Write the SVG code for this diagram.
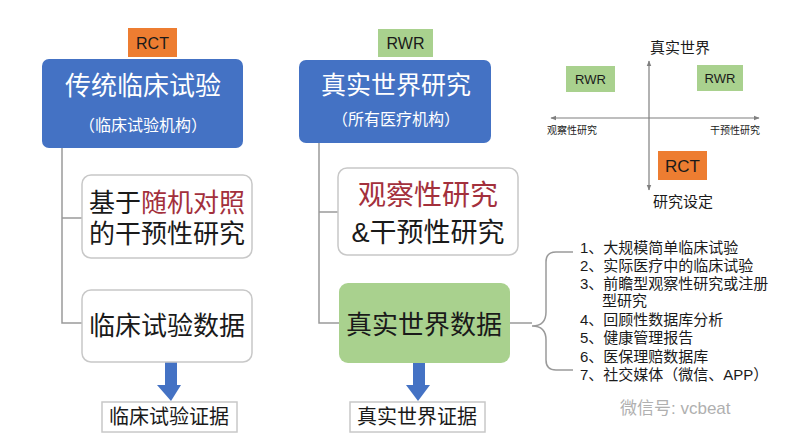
<svg xmlns="http://www.w3.org/2000/svg" width="800" height="443" viewBox="0 0 800 443">
<defs>
<style>
text{font-family:"Liberation Sans","Noto Sans CJK SC",sans-serif;}
.blue{fill:#4472c4;}
.orange{fill:#ed7d31;}
.green{fill:#a9d18e;}
.wbox{fill:#ffffff;stroke:#c8c8c8;stroke-width:1.5;}
.line{fill:none;stroke:#9a9a9a;stroke-width:1.5;}
.axis{fill:none;stroke:#7f7f7f;stroke-width:1.2;}
.w{fill:#ffffff;}
.dk{fill:#1a1a1a;}
.red{fill:#a3303c;}
</style>
<marker id="ah" viewBox="0 0 10 10" refX="9" refY="5" markerWidth="5" markerHeight="5" orient="auto-start-reverse">
<path d="M0,1 L10,5 L0,9 z" fill="#7f7f7f"/>
</marker>
</defs>
<rect width="800" height="443" fill="#ffffff"/>

<g id="connectors">
<path class="line" d="M62,148 V323 H82 M62,218 H82"/>
<path class="line" d="M319,142 V323 H339 M319,212 H338"/>
<path class="line" d="M510,323 H532"/>
<path class="line" d="M573,252 H556 Q546,252 546,262 V312 Q546,326 532,326 Q546,326 546,340 V360 Q546,370 556,370 H573"/>
<path class="blue" d="M165,362 H177 V385 H181 L171,401 L157,385 H165 Z"/>
<path class="blue" d="M413,363 H425 V385 H430 L418,401 L406,385 H413 Z"/>
</g>

<g id="rct-tag">
<rect class="orange" x="128" y="28" width="49" height="29"/>
<text x="152.5" y="49" font-size="16" text-anchor="middle" class="dk">RCT</text>
</g>
<g id="rct-main">
<rect class="blue" x="42" y="59" width="201" height="89" rx="7"/>
<text x="143" y="95" font-size="26" text-anchor="middle" class="w">传统临床试验</text>
<text x="143" y="131" font-size="16" text-anchor="middle" class="w">（临床试验机构）</text>
</g>
<g id="rct-method">
<rect class="wbox" x="82" y="175" width="170" height="83" rx="9"/>
<text x="167" y="212" font-size="26" text-anchor="middle" class="dk">基于<tspan class="red">随机对照</tspan></text>
<text x="167" y="243" font-size="26" text-anchor="middle" class="dk">的干预性研究</text>
</g>
<g id="rct-data">
<rect class="wbox" x="82" y="290" width="170" height="72" rx="9"/>
<text x="167" y="335" font-size="26" text-anchor="middle" class="dk">临床试验数据</text>
</g>
<g id="rct-evidence">
<rect class="wbox" x="102" y="402" width="135" height="30"/>
<text x="169" y="424" font-size="20" text-anchor="middle" class="dk">临床试验证据</text>
</g>

<g id="rwr-tag">
<rect class="green" x="378" y="29" width="55" height="28"/>
<text x="405.5" y="49" font-size="16" text-anchor="middle" class="dk">RWR</text>
</g>
<g id="rwr-main">
<rect class="blue" x="299" y="60" width="192" height="83" rx="7"/>
<text x="396" y="94" font-size="25" text-anchor="middle" class="w">真实世界研究</text>
<text x="396" y="125" font-size="16" text-anchor="middle" class="w">（所有医疗机构）</text>
</g>
<g id="rwr-method">
<rect class="wbox" x="338" y="168" width="180" height="87" rx="9"/>
<text x="428" y="205" font-size="28" text-anchor="middle" class="red">观察性研究</text>
<text x="428" y="242" font-size="27" text-anchor="middle" class="dk">&amp;干预性研究</text>
</g>
<g id="rwr-data">
<rect class="green" x="339" y="283" width="171" height="80" rx="9"/>
<text x="424" y="334" font-size="26" text-anchor="middle" class="dk">真实世界数据</text>
</g>
<g id="rwr-evidence">
<rect class="wbox" x="350" y="402" width="135" height="30"/>
<text x="417" y="424" font-size="20" text-anchor="middle" class="dk">真实世界证据</text>
</g>

<g id="rwd-list" font-size="15" class="dk">
<text x="580" y="253">1、大规模简单临床试验</text>
<text x="580" y="271">2、实际医疗中的临床试验</text>
<text x="580" y="289">3、前瞻型观察性研究或注册</text>
<text x="602" y="306">型研究</text>
<text x="580" y="325">4、回顾性数据库分析</text>
<text x="580" y="343">5、健康管理报告</text>
<text x="580" y="362">6、医保理赔数据库</text>
<text x="580" y="380">7、社交媒体（微信、APP）</text>
</g>

<g id="quadrant">
<line class="axis" x1="649" y1="190" x2="649" y2="61" marker-end="url(#ah)" marker-start="url(#ah)"/>
<line class="axis" x1="551" y1="118" x2="759" y2="118" marker-end="url(#ah)" marker-start="url(#ah)"/>
<text x="680" y="53" font-size="15" text-anchor="middle" class="dk">真实世界</text>
<text x="683" y="207" font-size="15" text-anchor="middle" class="dk">研究设定</text>
<text x="547" y="134" font-size="10" class="dk">观察性研究</text>
<text x="760" y="134" font-size="10" text-anchor="end" class="dk">干预性研究</text>
<g id="q-rwr1">
<rect class="green" x="566" y="66" width="49" height="26"/>
<text x="590.5" y="84" font-size="13" text-anchor="middle" class="dk">RWR</text>
</g>
<g id="q-rwr2">
<rect class="green" x="697" y="65" width="46" height="26"/>
<text x="720" y="83" font-size="13" text-anchor="middle" class="dk">RWR</text>
</g>
<g id="q-rct">
<rect class="orange" x="658" y="151" width="49" height="29"/>
<text x="682.5" y="172" font-size="17" text-anchor="middle" class="dk">RCT</text>
</g>
</g>

<g id="watermark">
<text x="620" y="414" font-size="17" fill="#b0b0b0">微信号: vcbeat</text>
</g>
</svg>
